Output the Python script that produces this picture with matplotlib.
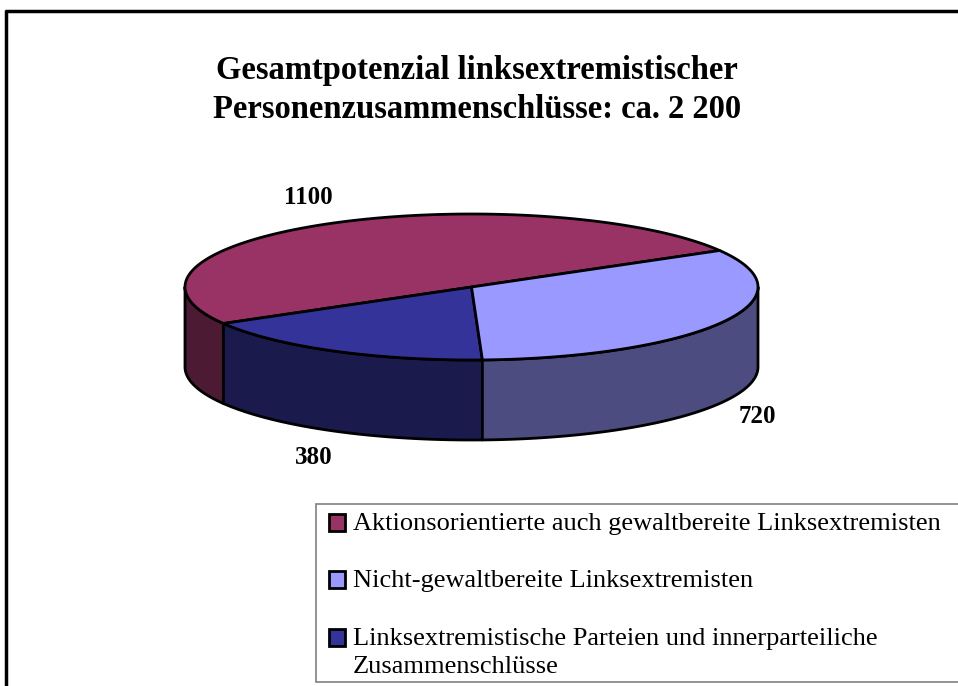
import numpy as np
import matplotlib
matplotlib.use('Agg')
import matplotlib.pyplot as plt
from matplotlib.patches import Polygon, Rectangle

# data
values = [1100, 380, 720]
value_labels = ['1100', '380', '720']
top_colors = ['#993366', '#333399', '#9999FF']
side_colors = ['#4C1A33', '#1A1A4C', '#4C4C80']

legend_labels = ['Aktionsorientierte auch gewaltbereite Linksextremisten',
                 'Nicht-gewaltbereite Linksextremisten',
                 'Linksextremistische Parteien und innerparteiliche\nZusammenschlüsse']
legend_colors = ['#993366', '#9999FF', '#333399']

title = 'Gesamtpotenzial linksextremistischer\nPersonenzusammenschlüsse: ca. 2 200'

plt.rcParams['font.family'] = ['Liberation Serif', 'DejaVu Serif']

fig = plt.figure(figsize=(9.58, 6.86), dpi=100)
ax = fig.add_axes([0, 0, 1, 1])
ax.set_xlim(0, 958)
ax.set_ylim(686, 0)
ax.axis('off')

# pie geometry (pixel units)
cx, cy = 471.5, 287
rx, ry = 286.5, 73
depth = 80
start = 30.0


def pt(theta_deg, dy=0):
    t = np.radians(theta_deg)
    return cx + rx * np.cos(t), cy - ry * np.sin(t) + dy


total = sum(values)
bounds = [start]
for v in values:
    bounds.append(bounds[-1] + 360.0 * v / total)

# sides (front half only: 180..360)
for i in range(len(values)):
    a0, a1 = bounds[i], bounds[i + 1]
    for off in (0, 360, -360):
        lo = max(a0 + off, 180)
        hi = min(a1 + off, 360)
        if hi > lo:
            th = np.linspace(lo, hi, 80)
            topx, topy = pt(th)
            botx, boty = pt(th[::-1], depth)
            xs = np.concatenate([topx, botx])
            ys = np.concatenate([topy, boty])
            ax.add_patch(Polygon(np.column_stack([xs, ys]), closed=True,
                                 facecolor=side_colors[i], edgecolor='black',
                                 linewidth=2, joinstyle='round'))

# top face
for i in range(len(values)):
    th = np.linspace(bounds[i], bounds[i + 1], 150)
    ex, ey = pt(th)
    xs = np.concatenate([[cx], ex])
    ys = np.concatenate([[cy], ey])
    ax.add_patch(Polygon(np.column_stack([xs, ys]), closed=True,
                         facecolor=top_colors[i], edgecolor='black',
                         linewidth=2, joinstyle='round'))

# value labels
for i, lab in enumerate(value_labels):
    mid = (bounds[i] + bounds[i + 1]) / 2
    t = np.radians(mid)
    x, y = pt(mid, depth if np.sin(t) < 0 else 0)
    x += 40 * np.cos(t)
    y -= 30 * np.sin(t)
    ax.text(x, y, lab, ha='center', va='center', fontsize=18,
            fontweight='bold')

# title
ax.text(477, 90, title, ha='center', va='center', fontsize=23.5,
        fontweight='bold', linespacing=1.32)

# outer frame
ax.plot([5, 958], [11, 11], color='black', lw=2.5, solid_capstyle='butt')
ax.plot([6, 6], [10, 686], color='black', lw=2.5, solid_capstyle='butt')

# legend
ax.add_patch(Rectangle((316, 504), 700, 178, facecolor='white',
                       edgecolor='#808080', linewidth=1.2))
for i, (lab, col) in enumerate(zip(legend_labels, legend_colors)):
    yc = 522 + i * 57.5
    ax.add_patch(Rectangle((329, yc - 8.5), 16, 17, facecolor=col,
                           edgecolor='black', linewidth=2))
    for k, line in enumerate(lab.split('\n')):
        ax.text(353, yc + 8 + k * 28, line, ha='left', va='baseline',
                fontsize=19)

fig.savefig('out.png', dpi=100)
